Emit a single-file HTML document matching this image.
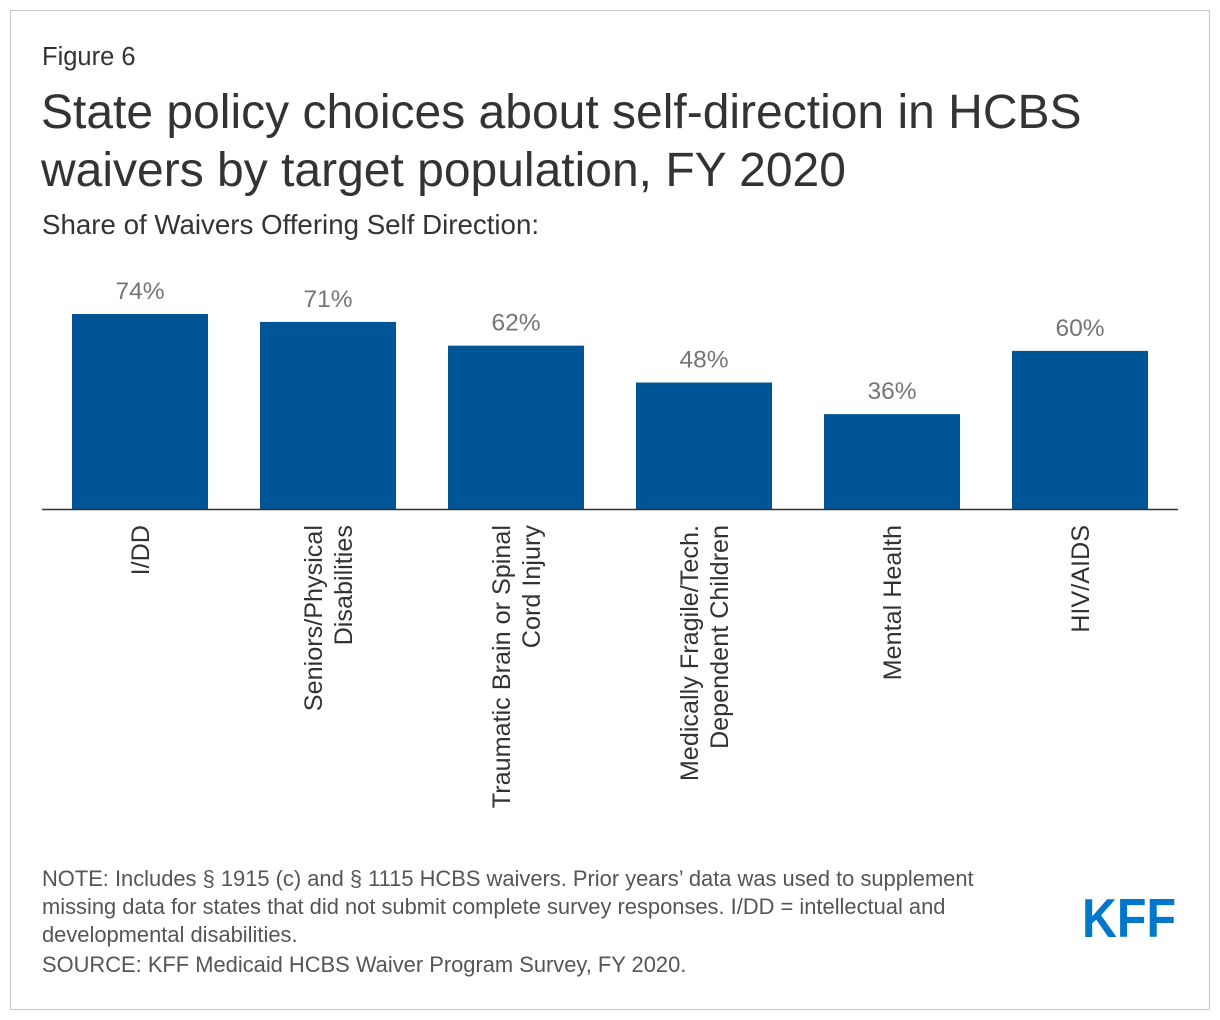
<!DOCTYPE html>
<html><head><meta charset="utf-8"><style>
body{margin:0;width:1220px;height:1020px;background:#fff;font-family:"Liberation Sans",Arial,sans-serif;position:relative;overflow:hidden}
.frame{position:absolute;left:10px;top:10px;width:1198px;height:998px;border:1px solid #c8c8c8}
.t{position:absolute;color:#333;white-space:nowrap}
</style></head><body>
<div class="frame"></div>
<div class="t" style="left:42px;top:43px;font-size:25.5px">Figure 6</div>
<div class="t" style="left:41px;top:84px;font-size:48px;line-height:58px">State policy choices about self-direction in HCBS<br>waivers by target population, FY 2020</div>
<div class="t" style="left:42px;top:209px;font-size:27.7px">Share of Waivers Offering Self Direction:</div>
<svg id="chart" width="1220" height="850" style="position:absolute;left:0;top:0"></svg>
<div class="t" style="left:42px;top:865px;font-size:21.9px;line-height:28px;color:#555">NOTE: Includes § 1915 (c) and § 1115 HCBS waivers. Prior years’ data was used to supplement<br>missing data for states that did not submit complete survey responses. I/DD = intellectual and<br>developmental disabilities.<br><span style="display:inline-block;margin-top:2px">SOURCE: KFF Medicaid HCBS Waiver Program Survey, FY 2020.</span></div>
<svg width="110" height="60" style="position:absolute;left:1076px;top:888px"><text x="6" y="49" font-family="Liberation Sans" font-weight="bold" font-size="55" fill="#0077c8" textLength="94" lengthAdjust="spacingAndGlyphs">KFF</text></svg>
<script>
const categories=[["I/DD"],["Seniors/Physical","Disabilities"],["Traumatic Brain or Spinal","Cord Injury"],["Medically Fragile/Tech.","Dependent Children"],["Mental Health"],["HIV/AIDS"]];
const values=[74,71,62,48,36,60];
const labels=["74%","71%","62%","48%","36%","60%"];
const svg=document.getElementById('chart');const NS='http://www.w3.org/2000/svg';
const base=509,pxPer=2.635,x0=72,step=188,bw=136;
const y=v=>base-v*pxPer;const x=i=>x0+i*step;
function mk(t,a){const e=document.createElementNS(NS,t);for(const k in a)e.setAttribute(k,a[k]);svg.appendChild(e);return e;}
values.forEach((v,i)=>{
 const r=mk('rect',{x:x(i),y:y(v),width:bw,height:base-y(v),fill:'#005596'});
 
 
 const t=mk('text',{x:x(i)+bw/2,y:y(v)-15,'text-anchor':'middle','font-size':24.5,fill:'#757575','font-family':'Liberation Sans'});
 t.textContent=labels[i];
 
 
 const lines=categories[i];const cx=x(i)+bw/2;
 lines.forEach((ln,j)=>{
  const off=(j-(lines.length-1)/2)*30+9;
  const tt=mk('text',{x:0,y:0,'text-anchor':'end','font-size':25.2,fill:'#333','font-family':'Liberation Sans',transform:`translate(${cx+off},${base+16}) rotate(-90)`});
  tt.textContent=ln;
  
  
 });
});
const ax=mk('line',{x1:42,x2:1178,y1:base+0.5,y2:base+0.5,stroke:'#333','stroke-width':1.5});


</script>
</body></html>
